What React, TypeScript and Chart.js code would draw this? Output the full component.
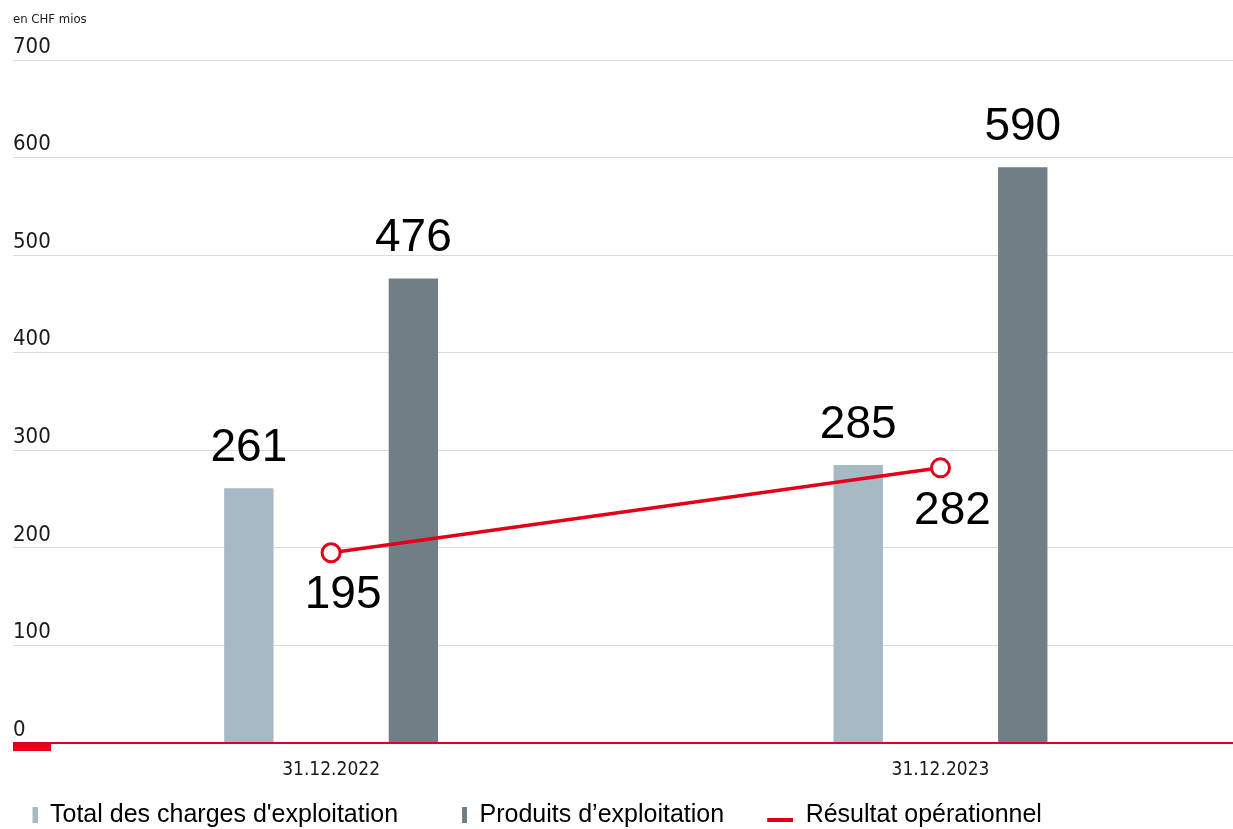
import React, { useEffect, useRef } from 'react';
import { Chart, registerables } from 'chart.js';

Chart.register(...registerables);

// ---- data ----
const categories = ['31.12.2022', '31.12.2023'];
const chargesValues = [261, 285];
const produitsValues = [476, 590];
const resultatValues = [195, 282];
const yTickValues = [0, 100, 200, 300, 400, 500, 600, 700];
const seriesLabels = ["Total des charges d'exploitation", 'Produits d\u2019exploitation', 'Résultat opérationnel'];
const unitLabel = 'en CHF mios';

// ---- styles ----
const LIGHT = '#a7b9c4';
const DARK = '#727e86';
const RED = '#e2001a';
const GRID = '#dadada';
const TEXT = '#1a1a1a';
const NARROW = '"DejaVu Sans Condensed", "Liberation Sans Narrow", sans-serif';
const SANS = '"Liberation Sans", Arial, Helvetica, sans-serif';
const MARK_W = 69;

function makeMarker(kind: 'bar' | 'line', color: string): HTMLCanvasElement {
  const c = document.createElement('canvas');
  c.width = MARK_W;
  c.height = 26;
  const g = c.getContext('2d')!;
  g.fillStyle = color;
  if (kind === 'bar') g.fillRect(MARK_W - 5, 5, 5, 16);
  else g.fillRect(MARK_W - 26, 16, 26, 4);
  return c;
}

const valueLabels = {
  id: 'valueLabels',
  afterDatasetsDraw(chart: any) {
    const ctx = chart.ctx;
    ctx.save();
    ctx.font = `46px ${SANS}`;
    ctx.fillStyle = '#000';
    ctx.textAlign = 'center';
    ctx.textBaseline = 'middle';
    chart.data.datasets.forEach((ds: any, i: number) => {
      if (!chart.isDatasetVisible(i)) return;
      const meta = chart.getDatasetMeta(i);
      meta.data.forEach((el: any, j: number) => {
        const v = ds.data[j].y;
        if (meta.type === 'bar') ctx.fillText(String(v), el.x, el.y - 40);
        else ctx.fillText(String(v), el.x + 12, el.y + 43);
      });
    });
    ctx.restore();
  },
};

const zeroMark = {
  id: 'zeroMark',
  afterDraw(chart: any) {
    const ctx = chart.ctx;
    const y0 = chart.scales.y.getPixelForValue(0);
    ctx.save();
    ctx.fillStyle = RED;
    ctx.fillRect(chart.chartArea.left, y0, 38, 8);
    ctx.restore();
  },
};

export default function App() {
  const ref = useRef<HTMLCanvasElement>(null);

  useEffect(() => {
    const canvas = ref.current!;
    const markers = [makeMarker('bar', LIGHT), makeMarker('bar', DARK), makeMarker('line', RED)];
    const colors = [LIGHT, DARK, RED];

    const chart = new Chart(canvas, {
      type: 'bar',
      data: {
        datasets: [
          {
            type: 'bar',
            label: seriesLabels[0],
            data: chargesValues.map((v, i) => ({ x: i, y: v })),
            backgroundColor: LIGHT,
            xAxisID: 'x',
            yAxisID: 'y',
            order: 1,
            categoryPercentage: 0.54,
            barPercentage: 0.3,
          },
          {
            type: 'bar',
            label: seriesLabels[1],
            data: produitsValues.map((v, i) => ({ x: i, y: v })),
            backgroundColor: DARK,
            xAxisID: 'x',
            yAxisID: 'y',
            order: 1,
            categoryPercentage: 0.54,
            barPercentage: 0.3,
          },
          {
            type: 'line',
            label: seriesLabels[2],
            data: resultatValues.map((v, i) => ({ x: i, y: v })),
            borderColor: RED,
            borderWidth: 3.5,
            pointRadius: 9,
            pointHoverRadius: 9,
            pointBorderWidth: 3,
            pointBackgroundColor: '#ffffff',
            pointBorderColor: RED,
            tension: 0,
            xAxisID: 'x',
            yAxisID: 'y',
            order: 0,
          },
        ] as any,
      },
      options: {
        responsive: false,
        animation: false,
        devicePixelRatio: 1,
        events: [],
        layout: { autoPadding: false, padding: { left: -31.5, right: 0, top: 0, bottom: -8.5 } },
        scales: {
          xTop: {
            type: 'linear',
            position: 'top',
            display: true,
            offset: false,
            min: 0,
            max: 1,
            afterBuildTicks: (axis: any) => {
              axis.ticks = [];
            },
            grid: { display: false, drawTicks: false },
            border: { display: false },
            ticks: { display: false, padding: 0 },
            title: {
              display: true,
              text: unitLabel,
              align: 'start',
              color: TEXT,
              font: { family: NARROW, size: 13 },
              padding: { top: 12.2, bottom: 32.2 },
            },
          },
          x: {
            type: 'linear',
            position: 'bottom',
            offset: false,
            min: -0.522,
            max: 1.48,
            grid: { display: false, drawTicks: false, offset: false },
            border: { display: false },
            afterBuildTicks: (axis: any) => {
              axis.ticks = categories.map((_, i) => ({ value: i }));
            },
            afterFit: (scale: any) => {
              scale.height = 59.5;
            },
            ticks: {
              padding: 16.1,
              color: TEXT,
              font: { family: NARROW, size: 19 },
              maxRotation: 0,
              autoSkip: false,
              callback: (value: any) => categories[value as number] ?? '',
            },
          },
          y: {
            type: 'linear',
            position: 'left',
            min: yTickValues[0],
            max: yTickValues[yTickValues.length - 1],
            afterBuildTicks: (axis: any) => {
              axis.ticks = yTickValues.map((v) => ({ value: v }));
            },
            afterFit: (scale: any) => {
              scale.width = 44.5;
            },
            border: { display: false },
            grid: {
              drawTicks: false,
              color: (c: any) => (c.tick && c.tick.value === 0 ? RED : GRID),
              lineWidth: (c: any) => (c.tick && c.tick.value === 0 ? 2 : 1),
            },
            ticks: {
              mirror: true,
              padding: 0,
              labelOffset: -13,
              color: TEXT,
              font: { family: NARROW, size: 22 },
              callback: (value: any) => String(value),
            },
          },
        } as any,
        plugins: {
          tooltip: { enabled: false },
          title: { display: false },
          legend: {
            display: true,
            position: 'bottom',
            align: 'start',
            labels: {
              usePointStyle: true,
              pointStyleWidth: MARK_W,
              padding: 0,
              color: '#000',
              font: { family: SANS, size: 25 },
              generateLabels: (ch: any) =>
                ch.data.datasets.map((ds: any, i: number) => ({
                  text: ds.label,
                  fillStyle: colors[i],
                  strokeStyle: colors[i],
                  lineWidth: 0,
                  pointStyle: markers[i],
                  hidden: !ch.isDatasetVisible(i),
                  datasetIndex: i,
                  fontColor: '#000',
                })),
            },
          },
        },
      } as any,
      plugins: [valueLabels, zeroMark],
    });

    return () => chart.destroy();
  }, []);

  return (
    <div
      style={{
        position: 'fixed',
        left: 0,
        top: 0,
        width: 1233,
        height: 829,
        overflow: 'hidden',
        background: '#ffffff',
      }}
    >
      <canvas ref={ref} width={1233} height={829} style={{ display: 'block', width: 1233, height: 829 }} />
    </div>
  );
}
